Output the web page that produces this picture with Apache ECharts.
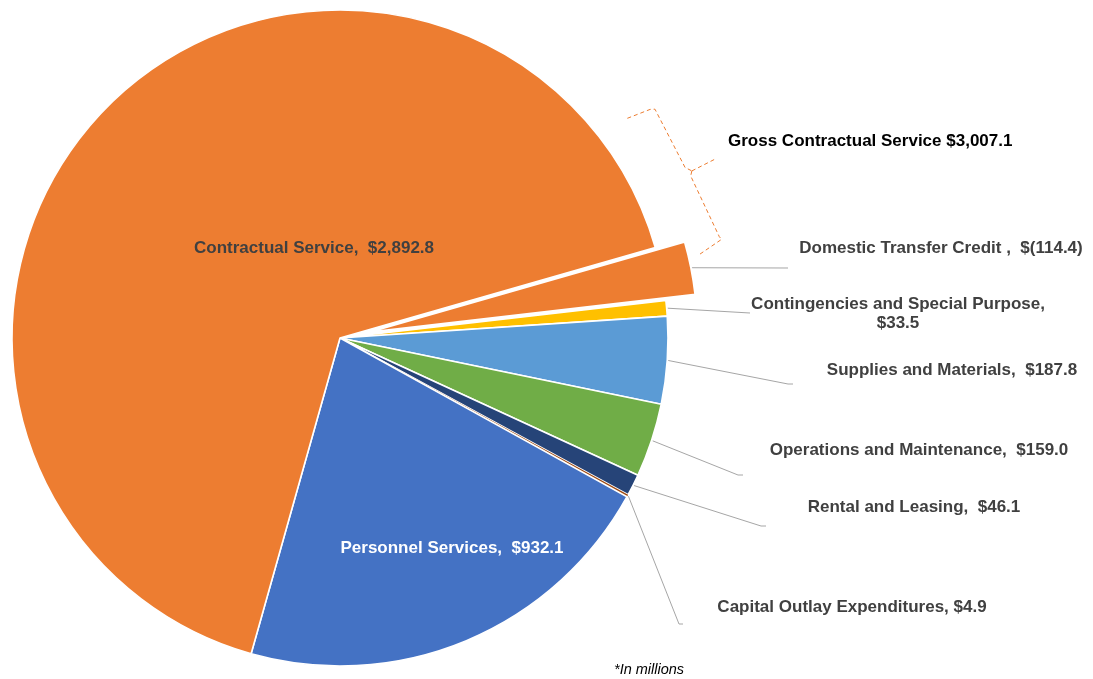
<!DOCTYPE html>
<html>
<head>
<meta charset="utf-8">
<script src="https://cdn.jsdelivr.net/npm/echarts@6/dist/echarts.min.js"></script>
<style>
  html, body { margin: 0; padding: 0; background: #ffffff; }
  #chart { width: 1093px; height: 679px; }
</style>
</head>
<body>
<div id="chart"></div>
<script>
// Budget categories, clockwise from the exploded transfer-credit slice
const categories = [
  'Domestic Transfer Credit',
  'Contingencies and Special Purpose',
  'Supplies and Materials',
  'Operations and Maintenance',
  'Rental and Leasing',
  'Capital Outlay Expenditures',
  'Personnel Services',
  'Contractual Service'
];
// Amounts in millions of dollars (negative = credit)
const amounts = [-114.4, 33.5, 187.8, 159.0, 46.1, 4.9, 932.1, 2892.8];
// Text placed between a category name and its amount
const separators = [' ,  ', ',\n', ',  ', ',  ', ',  ', ', ', ',  ', ',  '];
const grossName = 'Gross Contractual Service';
const grossAmount = 3007.1;
const unitNote = '*In millions';

// Styling and layout
const colors = ['#ED7D31', '#FFC000', '#5B9BD5', '#70AD47', '#264478', '#9E480E', '#4472C4', '#ED7D31'];
const textColors = ['#404040', '#404040', '#404040', '#404040', '#404040', '#404040', '#FFFFFF', '#404040'];
const FONT = '"Liberation Sans", Arial, sans-serif';
const CX = 340, CY = 338, R = 328, START_ANGLE = 16, EXPLODE = 30;
const explodedIndex = 0;
const thinSliceIndex = 5;
const insideLabels = [6, 7];
const labelSpots = [[941, 248], [898, 314], [952, 370], [919, 450], [914, 507], [852, 607], [452, 548], [314, 248]];
const leaderEnds = [
  [[788, 268]],
  [[750, 313]],
  [[788, 384], [793, 384]],
  [[738, 475], [743, 475]],
  [[761, 526], [766, 526]],
  [[679, 624], [683, 624]],
  null,
  null
];

function money(v) {
  const s = Math.abs(v).toLocaleString('en-US', { minimumFractionDigits: 1, maximumFractionDigits: 1 });
  return v < 0 ? '$(' + s + ')' : '$' + s;
}

const sizes = amounts.map(Math.abs);
const total = sizes.reduce((a, b) => a + b, 0);
const midAngles = [];
let acc = 0;
sizes.forEach(v => {
  midAngles.push((START_ANGLE - (acc + v / 2) / total * 360) * Math.PI / 180);
  acc += v;
});

function polar(r, deg) {
  const a = deg * Math.PI / 180;
  return [CX + r * Math.cos(a), CY - r * Math.sin(a)];
}

function leaderStart(i) {
  const r = R + 1 + (i === explodedIndex ? EXPLODE : 0);
  return [CX + r * Math.cos(midAngles[i]), CY - r * Math.sin(midAngles[i])];
}

// Main pie: every slice except the pulled-out one, plus all labels
const pieData = categories.map((name, i) => {
  const item = {
    name: name,
    value: sizes[i],
    itemStyle: { color: colors[i] },
    label: { color: textColors[i] }
  };
  if (i === explodedIndex) item.itemStyle = { color: 'rgba(0,0,0,0)', borderWidth: 0 };
  if (i === thinSliceIndex) item.itemStyle.borderWidth = 0;
  if (insideLabels.indexOf(i) >= 0) item.labelLine = { show: false };
  return item;
});

// Pulled-out slice, drawn from a centre shifted along its mid angle
const explodedData = categories.map((name, i) => ({
  name: name,
  value: sizes[i],
  itemStyle: i === explodedIndex
    ? { color: colors[i], borderColor: '#ffffff', borderWidth: 2 }
    : { color: 'rgba(0,0,0,0)', borderWidth: 0 }
}));
const explodedCenter = [
  CX + EXPLODE * Math.cos(midAngles[explodedIndex]),
  CY - EXPLODE * Math.sin(midAngles[explodedIndex])
];

// Dashed brace spanning the contractual total (polar points around the pie centre)
const braceTop = [[361.7, 37.4], [385.2, 36.4], [389.3, 36.0], [384.9, 26.3], [389.5, 25.4]].map(p => polar(p[0], p[1]));
const braceBottom = [[389.5, 25.4], [386.3, 24.8], [392.6, 14.95], [394.2, 14.5], [367, 12.96]].map(p => polar(p[0], p[1]));
const braceNub = [[389.5, 25.4], [415.5, 25.5]].map(p => polar(p[0], p[1]));
const braceStyle = { stroke: '#ED7D31', lineWidth: 1, lineDash: [4, 3], fill: null };

const chart = echarts.init(document.getElementById('chart'), null, { renderer: 'canvas' });
chart.setOption({
  animation: false,
  backgroundColor: '#ffffff',
  textStyle: { fontFamily: FONT },
  series: [{
    type: 'pie',
    center: [CX, CY],
    radius: [0, R],
    startAngle: START_ANGLE,
    clockwise: true,
    avoidLabelOverlap: false,
    itemStyle: { borderColor: '#ffffff', borderWidth: 1.6 },
    emphasis: { disabled: true },
    label: {
      show: true,
      position: 'outside',
      fontFamily: FONT,
      fontWeight: 'bold',
      fontSize: 17,
      lineHeight: 19,
      align: 'center',
      formatter: p => categories[p.dataIndex] + separators[p.dataIndex] + money(amounts[p.dataIndex])
    },
    labelLine: { show: true, length: 10, length2: 10, lineStyle: { color: '#A6A6A6', width: 1 } },
    labelLayout: function (params) {
      const i = params.dataIndex;
      const out = {
        x: labelSpots[i][0],
        y: labelSpots[i][1],
        align: 'center',
        verticalAlign: 'middle'
      };
      if (leaderEnds[i]) out.labelLinePoints = [leaderStart(i)].concat(leaderEnds[i]);
      return out;
    },
    data: pieData
  }, {
    type: 'pie',
    center: explodedCenter,
    radius: [0, R],
    startAngle: START_ANGLE,
    clockwise: true,
    silent: true,
    emphasis: { disabled: true },
    label: { show: false },
    labelLine: { show: false },
    data: explodedData
  }],
  graphic: [
    { type: 'polyline', shape: { points: braceTop }, style: braceStyle, silent: true },
    { type: 'polyline', shape: { points: braceBottom }, style: braceStyle, silent: true },
    { type: 'polyline', shape: { points: braceNub }, style: braceStyle, silent: true },
    {
      type: 'text', x: 728, y: 141, silent: true,
      style: {
        text: grossName + ' ' + money(grossAmount),
        fill: '#000000',
        font: 'bold 17px ' + FONT,
        textAlign: 'left', textVerticalAlign: 'middle'
      }
    },
    {
      type: 'text', x: 614, y: 670, silent: true,
      style: {
        text: unitNote,
        fill: '#000000',
        font: 'italic 14.5px ' + FONT,
        textAlign: 'left', textVerticalAlign: 'middle'
      }
    }
  ]
});
</script>
</body>
</html>
